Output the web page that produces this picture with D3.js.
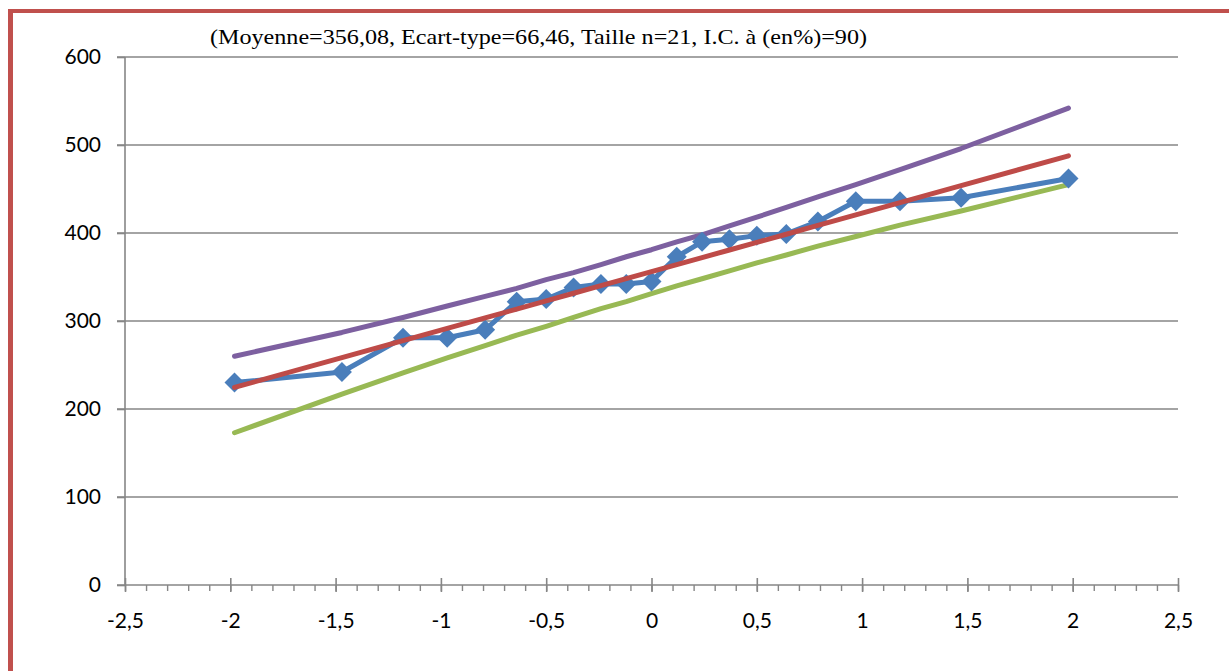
<!DOCTYPE html>
<html>
<head>
<meta charset="utf-8">
<script src="https://cdn.jsdelivr.net/npm/d3@7"></script>
<style>
  body { margin: 0; background: #fff; }
  svg { display: block; }
</style>
</head>
<body>
<figure id="qq" style="margin:0"></figure>
<script>
const zValues = [-1.98, -1.47, -1.18, -0.97, -0.79, -0.64, -0.50, -0.37, -0.24, -0.12, 0,
                 0.12, 0.24, 0.37, 0.50, 0.64, 0.79, 0.97, 1.18, 1.47, 1.98];
const observed = [230, 242, 281, 281, 290, 322, 325, 338, 342, 342, 345,
                  373, 390, 393, 397, 399, 413, 436, 436, 440, 462];
const theoretical = [224.5, 258.4, 277.7, 291.6, 303.6, 313.5, 322.8, 331.5, 340.1, 348.1, 356.1,
                     364.1, 372.0, 380.7, 389.3, 398.6, 408.6, 420.5, 434.5, 453.8, 487.7];
const upperBound = [260, 287, 304, 317, 328, 337, 347, 355, 364, 373, 381,
                    390, 398, 408, 418, 429, 441, 455, 472, 496, 542];
const lowerBound = [173, 217, 241, 258, 272, 284, 294, 304, 314, 322, 331,
                    340, 348, 357, 366, 375, 385, 396, 409, 425, 455];
const xTicks = [-2.5, -2, -1.5, -1, -0.5, 0, 0.5, 1, 1.5, 2, 2.5];
const yTicks = [0, 100, 200, 300, 400, 500, 600];
const title = '(Moyenne=356,08, Ecart-type=66,46, Taille n=21, I.C. à (en%)=90)';

const width = 1229;
const height = 671;
const marginLeft = 125;
const marginRight = 51;
const marginTop = 57;
const marginBottom = 86;

const svg = d3.select('figure#qq')
  .append('svg')
  .attr('width', width)
  .attr('height', height);

// red frame (top + left)
svg.append('rect').attr('x', 8).attr('y', 9).attr('width', width - 8).attr('height', 4).attr('fill', '#c0504d');
svg.append('rect').attr('x', 8).attr('y', 9).attr('width', 5).attr('height', height - 9).attr('fill', '#c0504d');

const x = d3.scaleLinear().domain([-2.5, 2.5]).range([marginLeft, width - marginRight]);
const y = d3.scaleLinear().domain([0, 600]).range([height - marginBottom, marginTop]);

const fmt = (v) => String(v).replace('.', ',');

// horizontal gridlines
svg.append('g')
  .selectAll('line')
  .data(yTicks.filter((d) => d > 0))
  .join('line')
  .attr('x1', marginLeft - 8)
  .attr('x2', width - marginRight)
  .attr('y1', (d) => y(d))
  .attr('y2', (d) => y(d))
  .attr('stroke', '#868686')
  .attr('stroke-width', 1.6);

// y axis
const gy = svg.append('g')
  .attr('transform', `translate(${marginLeft}, 0)`)
  .call(d3.axisLeft(y).tickValues(yTicks).tickFormat(fmt).tickSize(8).tickPadding(16));
gy.select('.domain').attr('stroke', '#868686').attr('stroke-width', 1.6).attr('d', `M0,${y(600)}V${y(0)}`);
gy.selectAll('.tick line').attr('stroke', '#868686').attr('stroke-width', 1.6);
gy.selectAll('text').attr('font-family', 'Lato, sans-serif').attr('font-size', 21).attr('fill', '#000');

// x axis: minor ticks below, major ticks crossing
const gx = svg.append('g').attr('transform', `translate(0, ${y(0)})`);
gx.call(d3.axisBottom(x).ticks(50).tickFormat('').tickSize(6))
  .call((g) => g.select('.domain').remove());
gx.selectAll('.tick line').attr('stroke', '#868686').attr('stroke-width', 1.4);
gx.append('line')
  .attr('x1', marginLeft - 8).attr('x2', width - marginRight)
  .attr('stroke', '#868686').attr('stroke-width', 1.6);

const gxMajor = svg.append('g').attr('transform', `translate(0, ${y(0)})`)
  .call(d3.axisBottom(x).tickValues(xTicks).tickFormat(fmt).tickSize(7).tickPadding(21));
gxMajor.select('.domain').remove();
gxMajor.selectAll('.tick line').attr('y1', -7).attr('stroke', '#868686').attr('stroke-width', 1.6);
gxMajor.selectAll('text').attr('font-family', 'Lato, sans-serif').attr('font-size', 21).attr('fill', '#000');

// title (the original is stretched horizontally)
svg.append('text')
  .attr('x', 210)
  .attr('y', 44)
  .attr('font-family', '"Liberation Serif", "Times New Roman", serif')
  .attr('font-size', 21)
  .attr('textLength', 657)
  .attr('lengthAdjust', 'spacingAndGlyphs')
  .text(title);

const line = (vals) => d3.line()
  .x((d, i) => x(zValues[i]))
  .y((d) => y(d))(vals);

const series = [
  { vals: upperBound, color: '#7d60a0' },
  { vals: lowerBound, color: '#98b954' },
  { vals: observed, color: '#4a7ebb' },
];

svg.append('g')
  .selectAll('path')
  .data(series)
  .join('path')
  .attr('d', (d) => line(d.vals))
  .attr('fill', 'none')
  .attr('stroke', (d) => d.color)
  .attr('stroke-width', 5)
  .attr('stroke-linecap', 'round')
  .attr('stroke-linejoin', 'round');

// diamond markers on observed values
svg.append('g')
  .selectAll('path')
  .data(observed)
  .join('path')
  .attr('transform', (d, i) => `translate(${x(zValues[i])}, ${y(d)})`)
  .attr('d', 'M0,-10L10,0L0,10L-10,0Z')
  .attr('fill', '#4a7ebb');

// red line drawn on top of markers like in the original
svg.append('path')
  .attr('d', line(theoretical))
  .attr('fill', 'none')
  .attr('stroke', '#be4b48')
  .attr('stroke-width', 5)
  .attr('stroke-linecap', 'round');
</script>
</body>
</html>
